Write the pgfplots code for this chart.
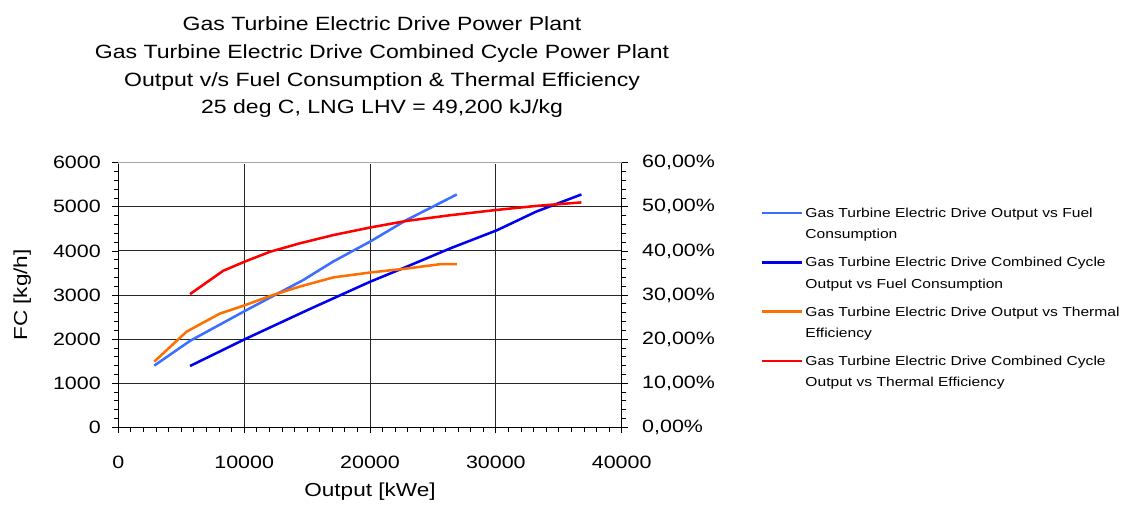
\documentclass[border=0pt]{standalone}
\usepackage{fontspec}
\setmainfont{Liberation Sans}[FakeStretch=1.2]
\usepackage{pgfplots}
\pgfplotsset{compat=1.18}
\definecolor{ltblue}{RGB}{60,110,255}
\definecolor{dkblue}{RGB}{0,0,240}
\definecolor{orng}{RGB}{255,110,0}
\definecolor{rd}{RGB}{255,0,0}
\pgfplotsset{
  common/.style={
    width=377.55pt, height=198.45pt, scale only axis,
    xmin=0, xmax=40000,
    /pgf/number format/assume math mode=true,
    /pgf/number format/1000 sep={},
    scaled x ticks=false, scaled y ticks=false,
    tick label style={font=\fontsize{13.4}{16}\selectfont},
    tick align=outside,
    major tick length=4.5pt, minor tick length=3.5pt,
    every tick/.style={black, line width=0.6pt},
    axis line style={black, line width=0.75pt},
  }
}
\begin{document}
\begin{tikzpicture}
\path[use as bounding box] (-88.725pt,-63.525pt) rectangle (755.775pt,320.475pt);
\begin{axis}[common,
  ymin=0, ymax=6000,
  axis x line*=bottom, axis y line*=left,
  xtick={0,10000,...,40000},
  ytick={0,1000,...,6000},
  minor xtick={1000,2000,...,39000},
  minor ytick={200,400,...,5800},
  grid=major, grid style={black!85, line width=0.7pt},
  xticklabel style={anchor=north, inner sep=0pt, yshift=-17pt},
  yticklabel style={anchor=east, inner sep=0pt, xshift=-8.5pt},
  xlabel={Output [kWe]}, ylabel={FC [kg/h]},
  every axis x label/.style={at={(axis description cs:0.5,-0.242)}, anchor=center, font=\fontsize{14.1}{16}\selectfont},
  every axis y label/.style={at={(axis description cs:-0.1907,0.5)}, anchor=center, rotate=90, font=\fontsize{14.1}{16}\selectfont},
]
\draw[white, line width=1.2pt] (rel axis cs:0,1) -- (rel axis cs:1,1);
\draw[black!35, line width=0.75pt] (rel axis cs:0,1) -- (rel axis cs:1,1);
\addplot[ltblue, line width=1.9pt, line join=round] coordinates {
(2860,1400) (5700,1960) (10070,2640) (14700,3340) (17080,3760) (20000,4210) (22900,4700) (26900,5280)};
\addplot[dkblue, line width=1.9pt, line join=round] coordinates {
(5700,1390) (10070,2000) (15200,2680) (20000,3300) (22900,3640) (26400,4060) (30100,4470) (33200,4890) (36800,5280)};
\end{axis}
\begin{axis}[common,
  ymin=0, ymax=60,
  axis x line=none, axis y line*=right,
  ytick={0,10,...,60}, minor ytick={2,4,...,58},
  yticklabel={\pgfmathprintnumber[fixed,fixed zerofill,precision=2,use comma]{\tick}\%},
  yticklabel style={anchor=west, inner sep=0pt, xshift=10.7pt},
  legend cell align=left,
  legend style={draw=none, fill=none, inner sep=0pt, at={(1.2747,0.84)}, anchor=north west,
    font=\fontsize{9.75}{16}\selectfont, row sep=8.5pt,
    cells={anchor=base west, align=left}},
  legend image code/.code={\draw[#1] (0pt,19.4pt) -- (30pt,19.4pt);},
]
\addlegendimage{ltblue, line width=1.9pt}
\addlegendentry{Gas Turbine Electric Drive Output vs Fuel\\Consumption}
\addlegendimage{dkblue, line width=1.9pt}
\addlegendentry{Gas Turbine Electric Drive Combined Cycle\\Output vs Fuel Consumption}
\addplot[orng, line width=1.9pt, line join=round] coordinates {
(2860,14.9) (5430,21.7) (8080,25.8) (10070,27.7) (12300,30.0) (14400,31.9) (17100,34.0) (20000,35.1) (22900,36.0) (25600,37.0) (26900,37.0)};
\addlegendentry{Gas Turbine Electric Drive Output vs Thermal\\Efficiency}
\addplot[rd, line width=1.9pt, line join=round] coordinates {
(5700,30.2) (7290,33.4) (8340,35.5) (10070,37.6) (12050,39.8) (14400,41.7) (17100,43.6) (20000,45.3) (22900,46.8) (26400,48.1) (30100,49.3) (33200,50.2) (36800,51.0)};
\addlegendentry{Gas Turbine Electric Drive Combined Cycle\\Output vs Thermal Efficiency}
\end{axis}
\node[anchor=base, font=\fontsize{14.4}{17}\selectfont] at (197.8pt,297.975pt) {Gas Turbine Electric Drive Power Plant};
\node[anchor=base, font=\fontsize{14.4}{17}\selectfont] at (197.8pt,276.75pt) {Gas Turbine Electric Drive Combined Cycle Power Plant};
\node[anchor=base, font=\fontsize{14.4}{17}\selectfont] at (197.8pt,255.975pt) {Output v/s Fuel Consumption \& Thermal Efficiency};
\node[anchor=base, font=\fontsize{14.4}{17}\selectfont] at (197.8pt,235.5pt) {25 deg C, LNG LHV = 49,200 kJ/kg};
\end{tikzpicture}
\end{document}
